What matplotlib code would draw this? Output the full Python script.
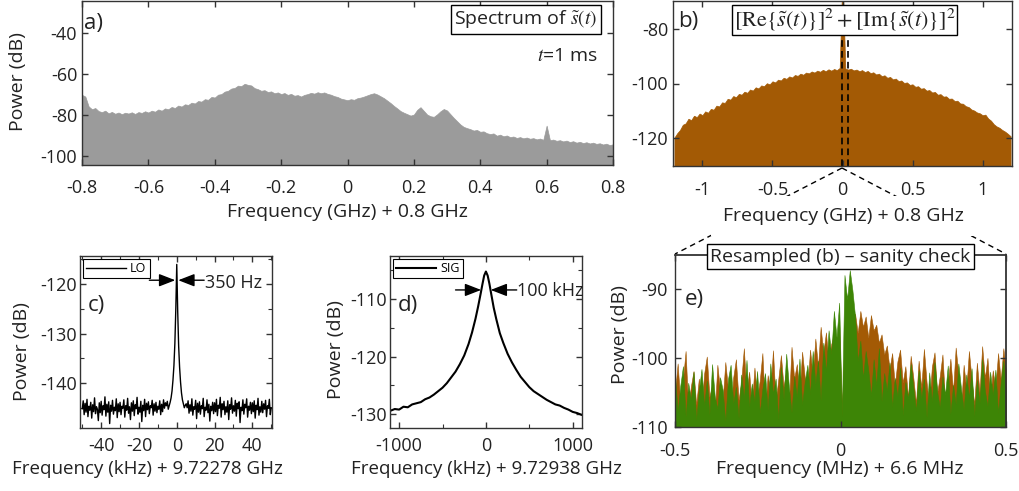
import numpy as np
import matplotlib
matplotlib.use("Agg")
import matplotlib.pyplot as plt
from matplotlib.lines import Line2D
from matplotlib.ticker import MultipleLocator

plt.rcParams["font.family"] = ["Open Sans", "DejaVu Sans"]
plt.rcParams["mathtext.fontset"] = "stix"
plt.rcParams["axes.unicode_minus"] = False

W, H = 1019, 491
GREY = "#9b9b9b"
ORANGE = "#a35a05"
GREEN = "#3d8506"
TXT = "#222222"

# ---------------- data ----------------
# a) spectrum of s~(t), upper edge in dB, -0.8 .. 0.8 GHz, 0.01 GHz steps
a_power = [
    -70.2, -71.0, -75.8, -77.2, -76.6, -78.1, -78.6, -77.9, -79.2, -78.5,
    -79.4, -78.8, -79.6, -78.9, -79.3, -78.7, -79.5, -78.6, -79.0, -78.2,
    -78.8, -77.9, -78.4, -77.3, -77.9, -76.8, -77.2, -76.1, -76.6, -75.4,
    -75.9, -74.8, -75.1, -74.0, -74.4, -73.2, -73.5, -72.3, -72.6, -71.2,
    -71.5, -70.1, -69.8, -68.6, -68.2, -67.1, -66.8, -65.7, -65.9, -64.8,
    -65.3, -65.6, -66.9, -67.4, -68.2, -67.9, -68.8, -68.5, -69.4, -69.0,
    -69.8, -69.3, -70.2, -69.7, -70.6, -70.3, -71.0, -70.2, -69.8, -69.2,
    -69.6, -68.9, -69.4, -69.0, -69.7, -70.1, -70.8, -71.2, -72.0, -72.4,
    -72.8, -72.3, -72.6, -71.8, -71.5, -71.0, -70.4, -69.8, -69.4, -70.0,
    -70.9, -71.8, -73.0, -74.2, -75.6, -76.8, -78.1, -78.9, -79.6, -80.3,
    -79.8, -77.5, -76.2, -78.0, -79.8, -80.6, -80.9, -79.7, -78.2, -77.1,
    -77.8, -79.6, -81.4, -83.0, -84.6, -85.8, -86.4, -86.9, -87.6, -87.3,
    -88.2, -88.0, -88.9, -89.3, -89.0, -90.1, -89.6, -90.4, -90.0, -90.8,
    -90.5, -91.2, -90.8, -91.4, -91.0, -91.6, -91.3, -91.9, -91.5, -92.1,
    -85.2, -92.3, -92.0, -92.6, -92.3, -92.9, -92.5, -93.2, -92.8, -93.5,
    -93.1, -93.7, -93.3, -93.9, -93.5, -94.1, -93.8, -94.4, -94.0, -94.7,
    -94.3,
]
a_xticks = [-0.8, -0.6, -0.4, -0.2, 0, 0.2, 0.4, 0.6, 0.8]
a_xticklabels = ["-0.8", "-0.6", "-0.4", "-0.2", "0", "0.2", "0.4", "0.6", "0.8"]
a_yticks = [-40, -60, -80, -100]

# b) |s~(t)|^2 spectrum, -1.2 .. 1.2 GHz, 0.02 GHz steps
b_power = [
    -119.8, -118.2, -117.0, -115.1, -114.6, -112.9, -113.4, -111.8, -112.3, -111.0,
    -111.6, -110.2, -110.7, -109.3, -109.6, -108.1, -108.4, -106.9, -107.1, -105.6,
    -105.9, -104.6, -105.0, -103.8, -104.1, -103.0, -103.4, -102.2, -102.6, -101.4,
    -101.8, -100.7, -101.0, -99.9, -100.3, -99.2, -99.6, -98.6, -98.9, -97.9,
    -98.3, -97.4, -97.8, -96.9, -97.2, -96.4, -96.8, -96.0, -96.3, -95.6,
    -96.0, -95.3, -95.7, -95.0, -95.5, -94.8, -95.3, -94.7, -95.1, -94.3,
    -60.0,
    -94.5, -94.9, -94.6, -95.2, -94.9, -95.5, -95.1, -95.8, -95.4, -96.2,
    -95.9, -96.7, -96.4, -97.3, -97.0, -97.9, -97.6, -98.5, -98.2, -99.1,
    -98.9, -99.8, -99.6, -100.5, -100.3, -101.2, -101.0, -101.9, -101.7, -102.6,
    -102.4, -103.3, -103.1, -104.1, -103.9, -104.8, -104.7, -105.6, -105.5, -106.4,
    -106.3, -107.3, -107.4, -108.3, -108.6, -109.5, -109.9, -110.6, -110.9, -111.6,
    -111.4, -112.8, -113.6, -114.9, -115.7, -116.2, -117.0, -117.6, -118.4, -119.3,
]
b_xticks = [-1, -0.5, 0, 0.5, 1]
b_xticklabels = ["-1", "-0.5", "0", "0.5", "1"]
b_yticks = [-80, -100, -120]
b_zoom_edges = [-0.004, 0.042]

# c) LO beat note, floor at 0.5 kHz spacing
c_floor_left = [
    -145.2, -143.6, -146.4, -144.1, -145.9, -143.3, -146.8, -144.7, -145.5, -143.9,
    -147.1, -144.4, -145.8, -143.0, -146.2, -144.8, -145.3, -147.6, -144.0, -146.0,
    -143.7, -146.5, -144.6, -145.4, -142.8, -146.7, -144.3, -145.9, -143.8, -148.2,
    -144.5, -145.7, -143.5, -146.3, -144.9, -145.6, -143.2, -147.0, -144.2, -145.8,
    -143.9, -146.4, -144.7, -145.1, -143.4, -146.9, -144.6, -145.5, -143.1, -146.1,
    -144.8, -147.4, -144.0, -145.7, -143.6, -146.6, -144.4, -145.2, -142.9, -146.3,
    -144.9, -145.9, -143.7, -147.8, -144.5, -145.6, -143.3, -146.8, -144.1, -145.4,
    -143.8, -146.2, -144.6, -145.0, -143.5, -146.5, -144.2, -145.7, -143.9, -146.0,
    -144.7, -145.3, -143.6, -146.4, -144.3, -145.8, -143.4, -145.1, -144.0, -144.6,
    -143.7,
]  # -50 .. -5 kHz
c_peak_freq = [-4.5, -4, -3.5, -3, -2.5, -2, -1.5, -1, -0.5, 0,
               0.5, 1, 1.5, 2, 2.5, 3, 3.5, 4, 4.5]
c_peak_power = [-145.3, -144.6, -143.9, -143.0, -141.6, -139.4, -136.5, -132.0, -125.0,
                -116.0, -125.5, -132.5, -136.8, -139.8, -142.0, -143.4, -144.2, -145.0,
                -144.5]
c_floor_right = [
    -144.2, -145.0, -143.6, -146.1, -144.4, -145.7, -143.2, -146.5, -144.8, -145.3,
    -143.5, -147.2, -144.1, -145.9, -143.8, -146.3, -144.6, -145.2, -143.1, -146.8,
    -144.9, -145.5, -143.4, -146.0, -144.3, -147.7, -144.7, -145.6, -143.9, -146.2,
    -144.0, -145.8, -143.3, -146.6, -144.5, -145.1, -142.9, -146.9, -144.2, -145.4,
    -143.7, -146.4, -144.8, -145.9, -143.6, -147.4, -144.4, -145.3, -143.0, -146.1,
    -144.6, -145.7, -143.5, -146.7, -144.1, -145.2, -143.8, -148.0, -144.9, -145.6,
    -143.4, -146.3, -144.3, -145.0, -143.2, -146.9, -144.7, -145.5, -143.9, -146.2,
    -144.0, -145.8, -143.6, -147.1, -144.5, -145.4, -143.1, -146.5, -144.8, -145.9,
    -143.7, -146.0, -144.2, -145.3, -143.5, -146.8, -144.6, -145.1, -143.3, -146.4,
    -145.0,
]  # 5 .. 50 kHz
c_xticks = [-40, -20, 0, 20, 40]
c_yticks = [-120, -130, -140]

# d) signal beat note
d_freq = [-1100, -1050, -1000, -950, -900, -850, -800, -750, -700, -650, -600, -550,
          -500, -450, -400, -350, -300, -250, -200, -160, -120, -90, -60, -40, -20,
          0, 20, 40, 60, 90, 120, 160, 200, 250, 300, 350, 400, 450, 500, 550, 600,
          650, 700, 750, 800, 850, 900, 950, 1000, 1050, 1100]
d_power = [-129.4, -129.1, -129.2, -128.7, -128.8, -128.3, -128.1, -127.9, -127.4,
           -127.1, -126.6, -126.0, -125.4, -124.6, -123.6, -122.6, -121.3, -119.8,
           -117.8, -115.8, -113.4, -111.3, -109.0, -107.4, -105.9, -105.2, -105.9,
           -107.3, -109.0, -111.5, -113.5, -115.9, -117.6, -119.5, -121.0, -122.3,
           -123.5, -124.4, -125.3, -126.0, -126.5, -127.0, -127.5, -127.9, -128.3,
           -128.5, -128.9, -129.2, -129.6, -129.8, -130.1]
d_xticks = [-1000, 0, 1000]
d_yticks = [-110, -120, -130]

# e) resampled (b), two traces, -0.5 .. 0.5 MHz
e_orange = [
    -105.0, -100.8, -106.5, -103.2, -99.0, -107.3, -104.1, -101.9, -106.8, -103.0,
    -107.5, -102.3, -99.8, -105.6, -103.9, -108.0, -101.0, -104.7, -106.2, -100.6,
    -104.4, -107.9, -102.8, -100.2, -106.1, -103.4, -98.6, -105.2, -102.0, -107.0,
    -101.4, -105.7, -103.3, -99.3, -107.6, -102.5, -104.8, -98.9, -106.4, -103.1,
    -99.6, -104.2, -101.7, -106.9, -98.4, -103.0, -100.9, -105.5, -99.1, -102.8,
    -104.5, -98.8, -102.6, -97.2, -101.3, -95.5, -99.4, -96.3, -100.8, -98.0,
    -96.5, -99.0, -95.0, -107.5, -97.2, -94.5, -98.0, -95.8, -93.6, -96.4,
    -93.2, -95.5, -94.0, -97.1, -93.8, -96.0, -95.2, -97.8, -96.6, -99.5,
    -98.2, -101.6, -99.3, -104.0, -100.5, -98.8, -103.6, -101.2, -105.8, -99.7,
    -102.9, -106.6, -100.4, -104.3, -98.7, -103.5, -107.0, -101.3, -99.2, -105.1,
    -102.6, -99.5, -106.3, -103.7, -100.1, -104.9, -98.5, -102.4, -107.4, -101.0,
    -104.6, -99.0, -103.1, -106.8, -100.7, -105.0, -98.3, -102.9, -100.0, -106.0,
    -101.8, -104.4, -99.3, -103.2, -98.6, -102.0,
]
e_green = [
    -102.5, -107.8, -104.0, -101.2, -108.5, -103.6, -106.1, -102.0, -109.0, -104.8,
    -101.6, -106.9, -103.3, -108.2, -100.9, -105.5, -107.4, -102.8, -104.6, -109.2,
    -103.1, -101.0, -106.6, -104.2, -108.7, -102.4, -105.9, -100.3, -107.1, -103.7,
    -106.3, -101.9, -108.0, -104.5, -102.2, -107.6, -100.8, -105.2, -103.0, -108.9,
    -101.3, -106.0, -99.4, -104.1, -107.9, -102.6, -105.7, -100.1, -106.8, -103.4,
    -101.0, -105.3, -99.0, -103.8, -100.4, -106.2, -97.8, -102.1, -96.0, -99.5,
    -93.2, -97.0, -92.0, -108.5, -88.0, -91.5, -87.3, -90.2, -94.0, -100.5,
    -97.5, -103.0, -99.0, -101.8, -105.5, -100.2, -104.0, -98.6, -106.3, -102.2,
    -104.8, -100.7, -107.1, -102.9, -105.6, -101.4, -108.3, -103.5, -106.0, -100.9,
    -104.3, -107.7, -101.8, -105.9, -103.0, -108.6, -102.1, -106.4, -100.6, -104.9,
    -107.2, -102.7, -105.3, -101.1, -108.1, -103.9, -106.7, -100.8, -104.4, -107.5,
    -102.4, -105.8, -101.5, -108.4, -103.2, -106.5, -100.2, -104.7, -107.0, -102.0,
    -105.4, -101.7, -108.0, -103.6, -100.4, -104.9,
]
e_xticks = [-0.5, 0, 0.5]
e_xticklabels = ["-0.5", "0", "0.5"]
e_yticks = [-90, -100, -110]


def px_axes(fig, left, top, right, bottom):
    return fig.add_axes([left / W, 1 - bottom / H, (right - left) / W, (bottom - top) / H])


def style(ax, xpad=6.5, ypad=3.5):
    for s in ax.spines.values():
        s.set_color("#333333")
        s.set_linewidth(1.0)
    ax.tick_params(which="both", direction="in", top=True, right=True,
                   labelsize=13, labelcolor=TXT, color="#333333")
    ax.tick_params(which="major", length=4.5, width=1)
    ax.tick_params(which="minor", length=3, width=0.8)
    ax.tick_params(axis="x", pad=xpad)
    ax.tick_params(axis="y", pad=ypad)


def ftext(x, y, s, **kw):
    kw.setdefault("fontsize", 14)
    kw.setdefault("color", TXT)
    return fig.text(x / W, 1 - y / H, s, ha="center", va="center", **kw)


fig = plt.figure(figsize=(W / 100, H / 100), dpi=100)

# ---- a)
ax = px_axes(fig, 82, 1, 613, 165)
a_x = np.linspace(-0.8, 0.8, len(a_power))
ax.fill_between(a_x, a_power, -110, color=GREY, lw=0.5, edgecolor=GREY)
ax.set_xlim(-0.8, 0.8)
ax.set_ylim(-104.4, -24.4)
ax.set_xticks(a_xticks)
ax.set_xticklabels(a_xticklabels)
ax.set_yticks(a_yticks)
style(ax, xpad=10)
ax.text(0.003, 0.865, "a)", transform=ax.transAxes, fontsize=16, color=TXT, va="center")
ax.text(0.836, 0.89, r"Spectrum of $\tilde{s}(t)$", transform=ax.transAxes, fontsize=14,
        ha="center", va="center", color=TXT,
        bbox=dict(facecolor="white", edgecolor="black", lw=1, pad=2.5))
ax.text(0.915, 0.665, r"$t$=1 ms", transform=ax.transAxes, fontsize=14,
        ha="center", va="center", color=TXT)
ftext(18, 82, "Power (dB)", rotation=90)
ftext(347, 212, "Frequency (GHz) + 0.8 GHz")

# ---- b)
ax = px_axes(fig, 673, 1, 1012, 166)
b_x = np.linspace(-1.2, 1.2, len(b_power))
ax.fill_between(b_x, b_power, -140, color=ORANGE, lw=0.5, edgecolor=ORANGE)
for xe in b_zoom_edges:
    ax.axvline(xe, ymax=0.85, color="black", ls="--", lw=1.2, dashes=(4, 2.5))
ax.set_xlim(-1.21, 1.21)
ax.set_ylim(-130.2, -69.8)
ax.set_xticks(b_xticks)
ax.set_xticklabels(b_xticklabels)
ax.set_yticks(b_yticks)
style(ax, xpad=11)
ax.text(0.015, 0.875, "b)", transform=ax.transAxes, fontsize=16, color=TXT, va="center")
ax.text(0.506, 0.885, r"$[\mathrm{Re}\{\tilde{s}(t)\}]^2 + [\mathrm{Im}\{\tilde{s}(t)\}]^2$",
        transform=ax.transAxes, fontsize=16, ha="center", va="center", color=TXT,
        bbox=dict(facecolor="white", edgecolor="black", lw=1, pad=1.5), zorder=5)
ftext(843, 216, "Frequency (GHz) + 0.8 GHz",
      bbox=dict(facecolor="white", edgecolor="none", pad=8))

# zoom connector lines b) -> e)
for xe, ye in [(675, 254), (1006, 254)]:
    fig.add_artist(Line2D([842 / W, xe / W], [1 - 168 / H, 1 - ye / H],
                          transform=fig.transFigure, color="black", lw=1,
                          ls="--", dashes=(4, 3), zorder=-1))

# ---- c)
ax = px_axes(fig, 80, 256, 272, 428)
c_x = np.concatenate([np.linspace(-50, -5, len(c_floor_left)), c_peak_freq,
                      np.linspace(5, 50, len(c_floor_right))])
c_y = np.concatenate([c_floor_left, c_peak_power, c_floor_right])
ax.plot(c_x, c_y, color="black", lw=1.0, label="LO")
ax.set_xlim(-51.2, 50.4)
ax.set_ylim(-149.1, -114.3)
ax.set_xticks(c_xticks)
ax.set_yticks(c_yticks)
ax.xaxis.set_minor_locator(MultipleLocator(10))
ax.yaxis.set_minor_locator(MultipleLocator(5))
style(ax, xpad=6.5, ypad=2.5)
leg = ax.legend(loc="upper left", fontsize=9, frameon=True, fancybox=False,
                edgecolor="black", framealpha=1, handlelength=3.2,
                borderaxespad=0.25, borderpad=0.25, handletextpad=0.3)
leg.get_frame().set_linewidth(0.8)
arrow = dict(arrowstyle="-|>,head_length=0.9,head_width=0.35", color="black", lw=1,
             mutation_scale=11, shrinkA=0, shrinkB=0)
ax.annotate("", xy=(-0.8, -119.2), xytext=(-14.5, -119.2), arrowprops=arrow)
ax.annotate("", xy=(0.8, -119.2), xytext=(14.5, -119.2), arrowprops=arrow)
ax.text(14.7, -119.8, "350 Hz", fontsize=13, color=TXT, va="center")
ax.text(0.04, 0.71, "c)", transform=ax.transAxes, fontsize=16, color=TXT, va="center")
ftext(22, 352, "Power (dB)", rotation=90)
ftext(147, 469, "Frequency (kHz) + 9.72278 GHz", fontsize=13.5)

# ---- d)
ax = px_axes(fig, 390, 256, 582, 428)
ax.plot(d_freq, d_power, color="black", lw=1.5, label="SIG")
ax.set_xlim(-1105, 1107)
ax.set_ylim(-132.4, -102.5)
ax.set_xticks(d_xticks)
ax.set_yticks(d_yticks)
ax.xaxis.set_minor_locator(MultipleLocator(500))
ax.yaxis.set_minor_locator(MultipleLocator(5))
style(ax, xpad=6.5, ypad=2.5)
leg = ax.legend(loc="upper left", fontsize=9, frameon=True, fancybox=False,
                edgecolor="black", framealpha=1, handlelength=3.2,
                borderaxespad=0.25, borderpad=0.25, handletextpad=0.3)
leg.get_frame().set_linewidth(0.8)
ax.annotate("", xy=(-55, -108.4), xytext=(-350, -108.4), arrowprops=arrow)
ax.annotate("", xy=(55, -108.4), xytext=(355, -108.4), arrowprops=arrow)
ax.text(358, -108.6, "100 kHz", fontsize=13, color=TXT, va="center")
ax.text(0.04, 0.71, "d)", transform=ax.transAxes, fontsize=16, color=TXT, va="center")
ftext(336, 350, "Power (dB)", rotation=90)
ftext(486, 469, "Frequency (kHz) + 9.72938 GHz", fontsize=13.5)

# ---- e)
ax = px_axes(fig, 675, 255, 1006, 427)
e_x = np.linspace(-0.5, 0.5, len(e_green))
ax.fill_between(e_x, e_orange, -112, color=ORANGE, lw=0.4, edgecolor=ORANGE)
ax.fill_between(e_x, e_green, -112, color=GREEN, lw=0.4, edgecolor=GREEN)
ax.set_xlim(-0.5, 0.5)
ax.set_ylim(-110, -85.1)
ax.set_xticks(e_xticks)
ax.set_xticklabels(e_xticklabels)
ax.set_yticks(e_yticks)
style(ax, xpad=11, ypad=5)
ax.spines["top"].set_linewidth(1.3)
ax.spines["right"].set_linewidth(1.3)
ax.text(0.03, 0.74, "e)", transform=ax.transAxes, fontsize=16, color=TXT, va="center")
ax.text(0.5, 0.99, "Resampled (b) \u2013 sanity check", transform=ax.transAxes,
        fontsize=14, ha="center", va="center", color=TXT,
        bbox=dict(facecolor="white", edgecolor="black", lw=1, pad=2.5), zorder=6)
ftext(620, 335, "Power (dB)", rotation=90)
ftext(840, 469, "Frequency (MHz) + 6.6 MHz")

fig.savefig("out.png", dpi=100)
